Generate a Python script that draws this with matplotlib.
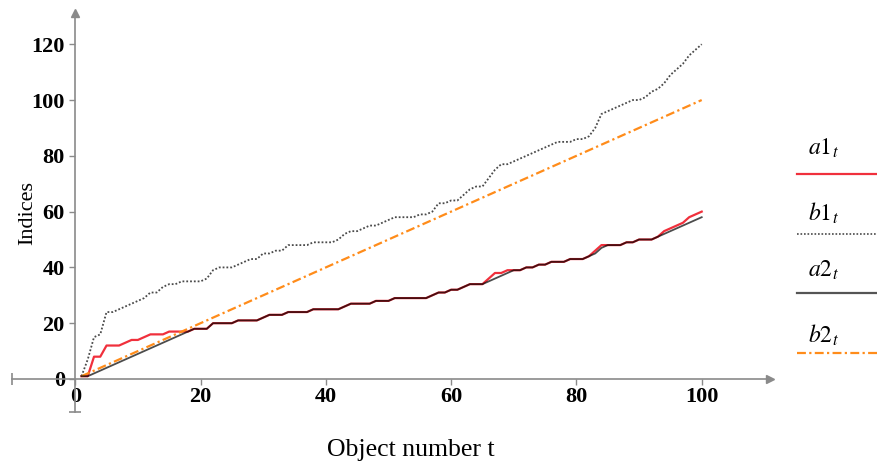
import matplotlib
matplotlib.use("Agg")
from matplotlib import pyplot as plt
from matplotlib.lines import Line2D

plt.rcParams['font.family'] = ['Liberation Serif', 'DejaVu Serif']
plt.rcParams['mathtext.fontset'] = 'stix'

# object numbers t = 1..100
t = list(range(1, 101))

a1 = [1, 1, 8, 8, 12, 12, 12, 13, 14, 14,
      15, 16, 16, 16, 17, 17, 17, 17, 18, 18,
      18, 20, 20, 20, 20, 21, 21, 21, 21, 22,
      23, 23, 23, 24, 24, 24, 24, 25, 25, 25,
      25, 25, 26, 27, 27, 27, 27, 28, 28, 28,
      29, 29, 29, 29, 29, 29, 30, 31, 31, 32,
      32, 33, 34, 34, 34, 36, 38, 38, 39, 39,
      39, 40, 40, 41, 41, 42, 42, 42, 43, 43,
      43, 44, 46, 48, 48, 48, 48, 49, 49, 50,
      50, 50, 51, 53, 54, 55, 56, 58, 59, 60]

a2 = [1, 1, 2, 3, 4, 5, 6, 7, 8, 9,
      10, 11, 12, 13, 14, 15, 16, 17, 18, 18,
      18, 20, 20, 20, 20, 21, 21, 21, 21, 22,
      23, 23, 23, 24, 24, 24, 24, 25, 25, 25,
      25, 25, 26, 27, 27, 27, 27, 28, 28, 28,
      29, 29, 29, 29, 29, 29, 30, 31, 31, 32,
      32, 33, 34, 34, 34, 35, 36, 37, 38, 39,
      39, 40, 40, 41, 41, 42, 42, 42, 43, 43,
      43, 44, 45, 47, 48, 48, 48, 49, 49, 50,
      50, 50, 51, 52, 53, 54, 55, 56, 57, 58]

b1 = [1, 7, 15, 16, 24, 24, 25, 26, 27, 28,
      29, 31, 31, 33, 34, 34, 35, 35, 35, 35,
      36, 39, 40, 40, 40, 41, 42, 43, 43, 45,
      45, 46, 46, 48, 48, 48, 48, 49, 49, 49,
      49, 50, 52, 53, 53, 54, 55, 55, 56, 57,
      58, 58, 58, 58, 59, 59, 60, 63, 63, 64,
      64, 66, 68, 69, 69, 72, 75, 77, 77, 78,
      79, 80, 81, 82, 83, 84, 85, 85, 85, 86,
      86, 87, 90, 95, 96, 97, 98, 99, 100, 100,
      101, 103, 104, 106, 109, 111, 113, 116, 118, 120]

# b2 is a straight line
b2_t = [1, 100]
b2 = [1, 100]

xticks = [0, 20, 40, 60, 80, 100]
yticks = [0, 20, 40, 60, 80, 100, 120]

W, H = 877, 462
fig = plt.figure(figsize=(W / 100, H / 100), dpi=100)
ax = fig.add_axes([12 / W, (H - 412) / H, 758 / W, 399 / H])
ax.set_xlim(-10.09, 110.9)
ax.set_ylim(-11.83, 131.2)

red = '#f0303c'
ax.plot(t, a1, color=red, lw=1.6, zorder=3)
ax.plot(t, b1, color='#4a4a4a', lw=1.3, ls=(0, (1, 1.1)), zorder=3)
ax.plot(t, a2, color='black', lw=1.3, alpha=0.7, zorder=4)
ax.plot(b2_t, b2, color='#ff8c1a', lw=1.6, ls=(0, (4, 1.5, 1, 1.5)), zorder=3)

axc = '#8a8a8a'
for s in ['top', 'right']:
    ax.spines[s].set_visible(False)
ax.spines['left'].set_position(('data', 0))
ax.spines['bottom'].set_position(('data', 0))
for s in ['left', 'bottom']:
    ax.spines[s].set_color(axc)
    ax.spines[s].set_linewidth(1.2)

ax.set_xticks(xticks)
ax.set_yticks(yticks)
ax.tick_params(axis='both', colors=axc, labelcolor='black', labelsize=16,
               length=4, width=1, direction='out')
ax.xaxis.set_tick_params(pad=2)
for lab in ax.get_xticklabels() + ax.get_yticklabels():
    lab.set_fontweight('bold')

# arrow heads and end bars
ax.plot(1, 0, '>', ms=6, color=axc, transform=ax.get_yaxis_transform(), clip_on=False)
ax.plot(0, 1, '^', ms=6, color=axc, transform=ax.get_xaxis_transform(), clip_on=False)
ax.plot(0, 0, '|', ms=8, mew=1.2, color=axc, transform=ax.get_yaxis_transform(), clip_on=False)
ax.plot(0, 0, '_', ms=8, mew=1.2, color=axc, transform=ax.get_xaxis_transform(), clip_on=False)

fig.text(28 / W, 1 - 213 / H, 'Indices', rotation=90, ha='center', va='center', fontsize=16)
fig.text(411 / W, 1 - 450 / H, 'Object number t', ha='center', va='center', fontsize=18.5)

# legend drawn at the right
legend = [(r'$a1_t$', 148, 174, dict(color=red, lw=1.6)),
          (r'$b1_t$', 213, 234, dict(color='#4a4a4a', lw=1.2, ls=(0, (1, 1.1)))),
          (r'$a2_t$', 270, 293, dict(color='#555555', lw=1.6)),
          (r'$b2_t$', 335, 353, dict(color='#ff8c1a', lw=1.6, ls=(0, (4, 1.5, 1, 1.5))))]
for lab, ty, ly, kw in legend:
    fig.text(808 / W, 1 - ty / H, lab, ha='left', va='center', fontsize=17)
    fig.add_artist(Line2D([797 / W, 1], [1 - ly / H, 1 - ly / H], **kw))

fig.savefig('out.png', dpi=100)
